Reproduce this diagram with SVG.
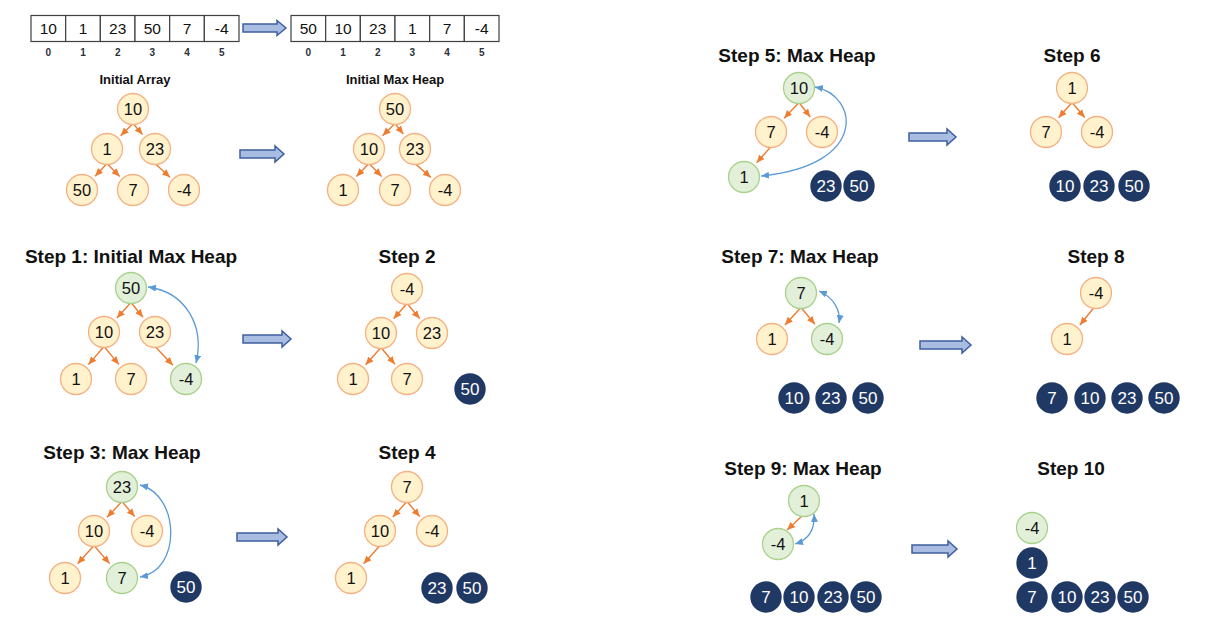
<svg xmlns="http://www.w3.org/2000/svg" width="1210" height="627" viewBox="0 0 1210 627">
<style>
text{font-family:"Liberation Sans",Arial,sans-serif;text-anchor:middle}
.y{fill:#fff2cc;stroke:#f4b183;stroke-width:1.3}
.g{fill:#e2f0d9;stroke:#a9d18e;stroke-width:1.3}
.d{fill:#203864;stroke:none}
.t{font-size:16.5px;fill:#111}
.w{font-size:17px;fill:#fff}
.h{font-size:19px;font-weight:bold;fill:#111}
.hs{font-size:13px;font-weight:bold;fill:#111}
.cell{fill:#fff;stroke:#404040;stroke-width:1.2}
.ct{font-size:15.5px;fill:#111}
.ix{font-size:10px;font-weight:bold;fill:#2a2f3a}
.e{stroke:#ed7d31;stroke-width:1.4;fill:none;marker-end:url(#mo)}
.b{stroke:#5b9bd5;stroke-width:1.3;fill:none;marker-start:url(#mb);marker-end:url(#mb)}
.ba{fill:#a9bde2;stroke:#3f5f9f;stroke-width:1.5}
</style>
<defs>
<marker id="mo" markerUnits="userSpaceOnUse" markerWidth="9" markerHeight="8" refX="8" refY="3.5" orient="auto"><path d="M0,0 L8,3.5 L0,7 z" fill="#ed7d31"/></marker>
<marker id="mb" markerUnits="userSpaceOnUse" markerWidth="9" markerHeight="8" refX="8" refY="3.5" orient="auto-start-reverse"><path d="M0,0 L8,3.5 L0,7 z" fill="#5b9bd5"/></marker>
</defs>
<rect width="1210" height="627" fill="#fff"/>

<!-- Arrays -->
<g id="array-initial">
<rect class="cell" x="31" y="15.5" width="34.67" height="26"/><rect class="cell" x="65.67" y="15.5" width="34.67" height="26"/><rect class="cell" x="100.33" y="15.5" width="34.67" height="26"/><rect class="cell" x="135" y="15.5" width="34.67" height="26"/><rect class="cell" x="169.67" y="15.5" width="34.67" height="26"/><rect class="cell" x="204.33" y="15.5" width="34.67" height="26"/>
<text class="ct" x="48.3" y="34">10</text><text class="ct" x="83" y="34">1</text><text class="ct" x="117.7" y="34">23</text><text class="ct" x="152.3" y="34">50</text><text class="ct" x="187" y="34">7</text><text class="ct" x="221.7" y="34">-4</text>
<text class="ix" x="48.3" y="55.8">0</text><text class="ix" x="83" y="55.8">1</text><text class="ix" x="117.7" y="55.8">2</text><text class="ix" x="152.3" y="55.8">3</text><text class="ix" x="187" y="55.8">4</text><text class="ix" x="221.7" y="55.8">5</text>
</g>
<g id="array-heap">
<rect class="cell" x="291" y="15.5" width="34.67" height="26"/><rect class="cell" x="325.67" y="15.5" width="34.67" height="26"/><rect class="cell" x="360.33" y="15.5" width="34.67" height="26"/><rect class="cell" x="395" y="15.5" width="34.67" height="26"/><rect class="cell" x="429.67" y="15.5" width="34.67" height="26"/><rect class="cell" x="464.33" y="15.5" width="34.67" height="26"/>
<text class="ct" x="308.3" y="34">50</text><text class="ct" x="343" y="34">10</text><text class="ct" x="377.7" y="34">23</text><text class="ct" x="412.3" y="34">1</text><text class="ct" x="447" y="34">7</text><text class="ct" x="481.7" y="34">-4</text>
<text class="ix" x="308.3" y="55.8">0</text><text class="ix" x="343" y="55.8">1</text><text class="ix" x="377.7" y="55.8">2</text><text class="ix" x="412.3" y="55.8">3</text><text class="ix" x="447" y="55.8">4</text><text class="ix" x="481.7" y="55.8">5</text>
</g>

<!-- Titles -->
<g id="titles">
<text class="hs" x="135" y="83.7">Initial Array</text>
<text class="hs" x="395" y="83.7">Initial Max Heap</text>
<text class="h" x="131" y="262.8">Step 1: Initial Max Heap</text>
<text class="h" x="407" y="262.8">Step 2</text>
<text class="h" x="122" y="458.5">Step 3: Max Heap</text>
<text class="h" x="407" y="458.5">Step 4</text>
<text class="h" x="797" y="61.8">Step 5: Max Heap</text>
<text class="h" x="1072" y="61.8">Step 6</text>
<text class="h" x="800" y="262.8">Step 7: Max Heap</text>
<text class="h" x="1096" y="262.8">Step 8</text>
<text class="h" x="803" y="475.1">Step 9: Max Heap</text>
<text class="h" x="1071" y="475.1">Step 10</text>
</g>

<!-- Block arrows -->
<g id="block-arrows">
<path class="ba" d="M243,24 H277 V20.5 L286,28 L277,35.5 V32 H243 Z"/>
<path class="ba" d="M240,150 H275 V146 L284,154 L275,162 V158 H240 Z"/>
<path class="ba" d="M243,335 H282 V331 L291,339 L282,347 V343 H243 Z"/>
<path class="ba" d="M237,533 H278 V529 L287,537 L278,545 V541 H237 Z"/>
<path class="ba" d="M909,133 H947 V129 L956,137 L947,145 V141 H909 Z"/>
<path class="ba" d="M920,341 H962 V337 L971,345 L962,353 V349 H920 Z"/>
<path class="ba" d="M912,545 H948 V541 L957,549 L948,557 V553 H912 Z"/>
</g>

<!-- Connectors -->
<g id="connectors">
<line class="e" x1="133" y1="123.5" x2="120.6" y2="135.7"/>
<line class="e" x1="133" y1="123.5" x2="142.6" y2="134.6"/>
<line class="e" x1="107" y1="163.5" x2="95.1" y2="176.2"/>
<line class="e" x1="107" y1="163.5" x2="119.7" y2="176.4"/>
<line class="e" x1="155" y1="163.5" x2="170" y2="177.2"/>

<line class="e" x1="395" y1="123.5" x2="382.6" y2="135.7"/>
<line class="e" x1="395" y1="123.5" x2="403.3" y2="134"/>
<line class="e" x1="369" y1="163.5" x2="356.3" y2="176.4"/>
<line class="e" x1="369" y1="163.5" x2="381.7" y2="176.4"/>
<line class="e" x1="415" y1="163.5" x2="430.8" y2="177.4"/>

<line class="e" x1="131" y1="302.5" x2="116.8" y2="318"/>
<line class="e" x1="131" y1="302.5" x2="143" y2="317.3"/>
<line class="e" x1="104" y1="346.5" x2="88.4" y2="364.6"/>
<line class="e" x1="104" y1="346.5" x2="118.9" y2="364.4"/>
<line class="e" x1="155" y1="346.5" x2="172.9" y2="365.2"/>
<path class="b" d="M148,287 C185,292 205,325 196,363"/>

<line class="e" x1="407" y1="303.5" x2="393.6" y2="318.7"/>
<line class="e" x1="407" y1="303.5" x2="419.7" y2="318.5"/>
<line class="e" x1="381" y1="347.5" x2="365.6" y2="364.8"/>
<line class="e" x1="381" y1="347.5" x2="394.9" y2="364.3"/>

<line class="e" x1="122" y1="501.5" x2="107.1" y2="517.2"/>
<line class="e" x1="122" y1="501.5" x2="134.7" y2="516.5"/>
<line class="e" x1="94" y1="545.5" x2="77.6" y2="563.8"/>
<line class="e" x1="94" y1="545.5" x2="109.6" y2="563.6"/>
<path class="b" d="M140,485 C180,495 182,570 140,577"/>

<line class="e" x1="407" y1="501.5" x2="392.8" y2="517"/>
<line class="e" x1="407" y1="501.5" x2="419.7" y2="516.5"/>
<line class="e" x1="380" y1="545.5" x2="363.6" y2="563.8"/>

<line class="e" x1="799" y1="102.5" x2="784.1" y2="118.2"/>
<line class="e" x1="799" y1="102.5" x2="810.3" y2="117"/>
<line class="e" x1="771" y1="146.5" x2="756.6" y2="162.8"/>
<path class="b" d="M815,87 C858,95 870,165 761,176"/>

<line class="e" x1="1072" y1="102.5" x2="1058.6" y2="117.7"/>
<line class="e" x1="1072" y1="102.5" x2="1084.7" y2="117.5"/>

<line class="e" x1="801" y1="307.5" x2="784.9" y2="325"/>
<line class="e" x1="801" y1="307.5" x2="814.9" y2="324.3"/>
<path class="b" d="M819,291 C833,297 841,310 839,323"/>

<line class="e" x1="1094" y1="307.5" x2="1079.9" y2="325"/>

<line class="e" x1="802" y1="516" x2="787" y2="530"/>
<path class="b" d="M814,514 C815,530 808,540 795,544"/>
</g>

<!-- Initial array tree -->
<g id="ia-10"><circle class="y" cx="133" cy="109" r="15.5"/><text class="t" x="133" y="115">10</text></g>
<g id="ia-1"><circle class="y" cx="107" cy="149" r="15.5"/><text class="t" x="107" y="155">1</text></g>
<g id="ia-23"><circle class="y" cx="155" cy="149" r="15.5"/><text class="t" x="155" y="155">23</text></g>
<g id="ia-50"><circle class="y" cx="82" cy="190" r="15.5"/><text class="t" x="82" y="196">50</text></g>
<g id="ia-7"><circle class="y" cx="133" cy="190" r="15.5"/><text class="t" x="133" y="196">7</text></g>
<g id="ia-m4"><circle class="y" cx="184" cy="190" r="15.5"/><text class="t" x="184" y="196">-4</text></g>

<!-- Initial max heap tree -->
<g id="ih-50"><circle class="y" cx="395" cy="109" r="15.5"/><text class="t" x="395" y="115">50</text></g>
<g id="ih-10"><circle class="y" cx="369" cy="149" r="15.5"/><text class="t" x="369" y="155">10</text></g>
<g id="ih-23"><circle class="y" cx="415" cy="149" r="15.5"/><text class="t" x="415" y="155">23</text></g>
<g id="ih-1"><circle class="y" cx="343" cy="190" r="15.5"/><text class="t" x="343" y="196">1</text></g>
<g id="ih-7"><circle class="y" cx="395" cy="190" r="15.5"/><text class="t" x="395" y="196">7</text></g>
<g id="ih-m4"><circle class="y" cx="445" cy="190" r="15.5"/><text class="t" x="445" y="196">-4</text></g>

<!-- Step 1 -->
<g id="s1-50"><circle class="g" cx="131" cy="288" r="15.5"/><text class="t" x="131" y="294">50</text></g>
<g id="s1-10"><circle class="y" cx="104" cy="332" r="15.5"/><text class="t" x="104" y="338">10</text></g>
<g id="s1-23"><circle class="y" cx="155" cy="332" r="15.5"/><text class="t" x="155" y="338">23</text></g>
<g id="s1-1"><circle class="y" cx="76" cy="379" r="15.5"/><text class="t" x="76" y="385">1</text></g>
<g id="s1-7"><circle class="y" cx="131" cy="379" r="15.5"/><text class="t" x="131" y="385">7</text></g>
<g id="s1-m4"><circle class="g" cx="186" cy="379" r="15.5"/><text class="t" x="186" y="385">-4</text></g>

<!-- Step 2 -->
<g id="s2-m4"><circle class="y" cx="407" cy="289" r="15.5"/><text class="t" x="407" y="295">-4</text></g>
<g id="s2-10"><circle class="y" cx="381" cy="333" r="15.5"/><text class="t" x="381" y="339">10</text></g>
<g id="s2-23"><circle class="y" cx="432" cy="333" r="15.5"/><text class="t" x="432" y="339">23</text></g>
<g id="s2-1"><circle class="y" cx="353" cy="379" r="15.5"/><text class="t" x="353" y="385">1</text></g>
<g id="s2-7"><circle class="y" cx="407" cy="379" r="15.5"/><text class="t" x="407" y="385">7</text></g>
<g id="s2-50"><circle class="d" cx="470" cy="389" r="15.7"/><text class="w" x="470" y="395.1">50</text></g>

<!-- Step 3 -->
<g id="s3-23"><circle class="g" cx="122" cy="487" r="15.5"/><text class="t" x="122" y="493">23</text></g>
<g id="s3-10"><circle class="y" cx="94" cy="531" r="15.5"/><text class="t" x="94" y="537">10</text></g>
<g id="s3-m4"><circle class="y" cx="147" cy="531" r="15.5"/><text class="t" x="147" y="537">-4</text></g>
<g id="s3-1"><circle class="y" cx="65" cy="578" r="15.5"/><text class="t" x="65" y="584">1</text></g>
<g id="s3-7"><circle class="g" cx="122" cy="578" r="15.5"/><text class="t" x="122" y="584">7</text></g>
<g id="s3-50"><circle class="d" cx="186" cy="587" r="15.7"/><text class="w" x="186" y="593.1">50</text></g>

<!-- Step 4 -->
<g id="s4-7"><circle class="y" cx="407" cy="487" r="15.5"/><text class="t" x="407" y="493">7</text></g>
<g id="s4-10"><circle class="y" cx="380" cy="531" r="15.5"/><text class="t" x="380" y="537">10</text></g>
<g id="s4-m4"><circle class="y" cx="432" cy="531" r="15.5"/><text class="t" x="432" y="537">-4</text></g>
<g id="s4-1"><circle class="y" cx="351" cy="578" r="15.5"/><text class="t" x="351" y="584">1</text></g>
<g id="s4-23"><circle class="d" cx="437" cy="588" r="15.7"/><text class="w" x="437" y="594.1">23</text></g>
<g id="s4-50"><circle class="d" cx="472" cy="588" r="15.7"/><text class="w" x="472" y="594.1">50</text></g>

<!-- Step 5 -->
<g id="s5-10"><circle class="g" cx="799" cy="88" r="15.5"/><text class="t" x="799" y="94">10</text></g>
<g id="s5-7"><circle class="y" cx="771" cy="132" r="15.5"/><text class="t" x="771" y="138">7</text></g>
<g id="s5-m4"><circle class="y" cx="822" cy="132" r="15.5"/><text class="t" x="822" y="138">-4</text></g>
<g id="s5-1"><circle class="g" cx="744" cy="177" r="15.5"/><text class="t" x="744" y="183">1</text></g>
<g id="s5-23"><circle class="d" cx="826" cy="186" r="15.7"/><text class="w" x="826" y="192.1">23</text></g>
<g id="s5-50"><circle class="d" cx="859" cy="186" r="15.7"/><text class="w" x="859" y="192.1">50</text></g>

<!-- Step 6 -->
<g id="s6-1"><circle class="y" cx="1072" cy="88" r="15.5"/><text class="t" x="1072" y="94">1</text></g>
<g id="s6-7"><circle class="y" cx="1046" cy="132" r="15.5"/><text class="t" x="1046" y="138">7</text></g>
<g id="s6-m4"><circle class="y" cx="1097" cy="132" r="15.5"/><text class="t" x="1097" y="138">-4</text></g>
<g id="s6-10"><circle class="d" cx="1065" cy="186" r="15.7"/><text class="w" x="1065" y="192.1">10</text></g>
<g id="s6-23"><circle class="d" cx="1099" cy="186" r="15.7"/><text class="w" x="1099" y="192.1">23</text></g>
<g id="s6-50"><circle class="d" cx="1134" cy="186" r="15.7"/><text class="w" x="1134" y="192.1">50</text></g>

<!-- Step 7 -->
<g id="s7-7"><circle class="g" cx="801" cy="293" r="15.5"/><text class="t" x="801" y="299">7</text></g>
<g id="s7-1"><circle class="y" cx="772" cy="339" r="15.5"/><text class="t" x="772" y="345">1</text></g>
<g id="s7-m4"><circle class="g" cx="827" cy="339" r="15.5"/><text class="t" x="827" y="345">-4</text></g>
<g id="s7-10"><circle class="d" cx="794" cy="398" r="15.7"/><text class="w" x="794" y="404.1">10</text></g>
<g id="s7-23"><circle class="d" cx="831" cy="398" r="15.7"/><text class="w" x="831" y="404.1">23</text></g>
<g id="s7-50"><circle class="d" cx="868" cy="398" r="15.7"/><text class="w" x="868" y="404.1">50</text></g>

<!-- Step 8 -->
<g id="s8-m4"><circle class="y" cx="1096" cy="293" r="15.5"/><text class="t" x="1096" y="299">-4</text></g>
<g id="s8-1"><circle class="y" cx="1067" cy="339" r="15.5"/><text class="t" x="1067" y="345">1</text></g>
<g id="s8-7"><circle class="d" cx="1052" cy="398" r="15.7"/><text class="w" x="1052" y="404.1">7</text></g>
<g id="s8-10"><circle class="d" cx="1090" cy="398" r="15.7"/><text class="w" x="1090" y="404.1">10</text></g>
<g id="s8-23"><circle class="d" cx="1127" cy="398" r="15.7"/><text class="w" x="1127" y="404.1">23</text></g>
<g id="s8-50"><circle class="d" cx="1164" cy="398" r="15.7"/><text class="w" x="1164" y="404.1">50</text></g>

<!-- Step 9 -->
<g id="s9-1"><circle class="g" cx="804" cy="501" r="15.5"/><text class="t" x="804" y="507">1</text></g>
<g id="s9-m4"><circle class="g" cx="778" cy="544" r="15.5"/><text class="t" x="778" y="550">-4</text></g>
<g id="s9-7"><circle class="d" cx="766" cy="597" r="15.7"/><text class="w" x="766" y="603.1">7</text></g>
<g id="s9-10"><circle class="d" cx="799" cy="597" r="15.7"/><text class="w" x="799" y="603.1">10</text></g>
<g id="s9-23"><circle class="d" cx="833" cy="597" r="15.7"/><text class="w" x="833" y="603.1">23</text></g>
<g id="s9-50"><circle class="d" cx="866" cy="597" r="15.7"/><text class="w" x="866" y="603.1">50</text></g>

<!-- Step 10 -->
<g id="s10-m4"><circle class="g" cx="1032" cy="528" r="15.5"/><text class="t" x="1032" y="534">-4</text></g>
<g id="s10-1"><circle class="d" cx="1032" cy="563" r="15.7"/><text class="w" x="1032" y="569.1">1</text></g>
<g id="s10-7"><circle class="d" cx="1032" cy="597" r="15.7"/><text class="w" x="1032" y="603.1">7</text></g>
<g id="s10-10"><circle class="d" cx="1067" cy="597" r="15.7"/><text class="w" x="1067" y="603.1">10</text></g>
<g id="s10-23"><circle class="d" cx="1100" cy="597" r="15.7"/><text class="w" x="1100" y="603.1">23</text></g>
<g id="s10-50"><circle class="d" cx="1133" cy="597" r="15.7"/><text class="w" x="1133" y="603.1">50</text></g>
</svg>
